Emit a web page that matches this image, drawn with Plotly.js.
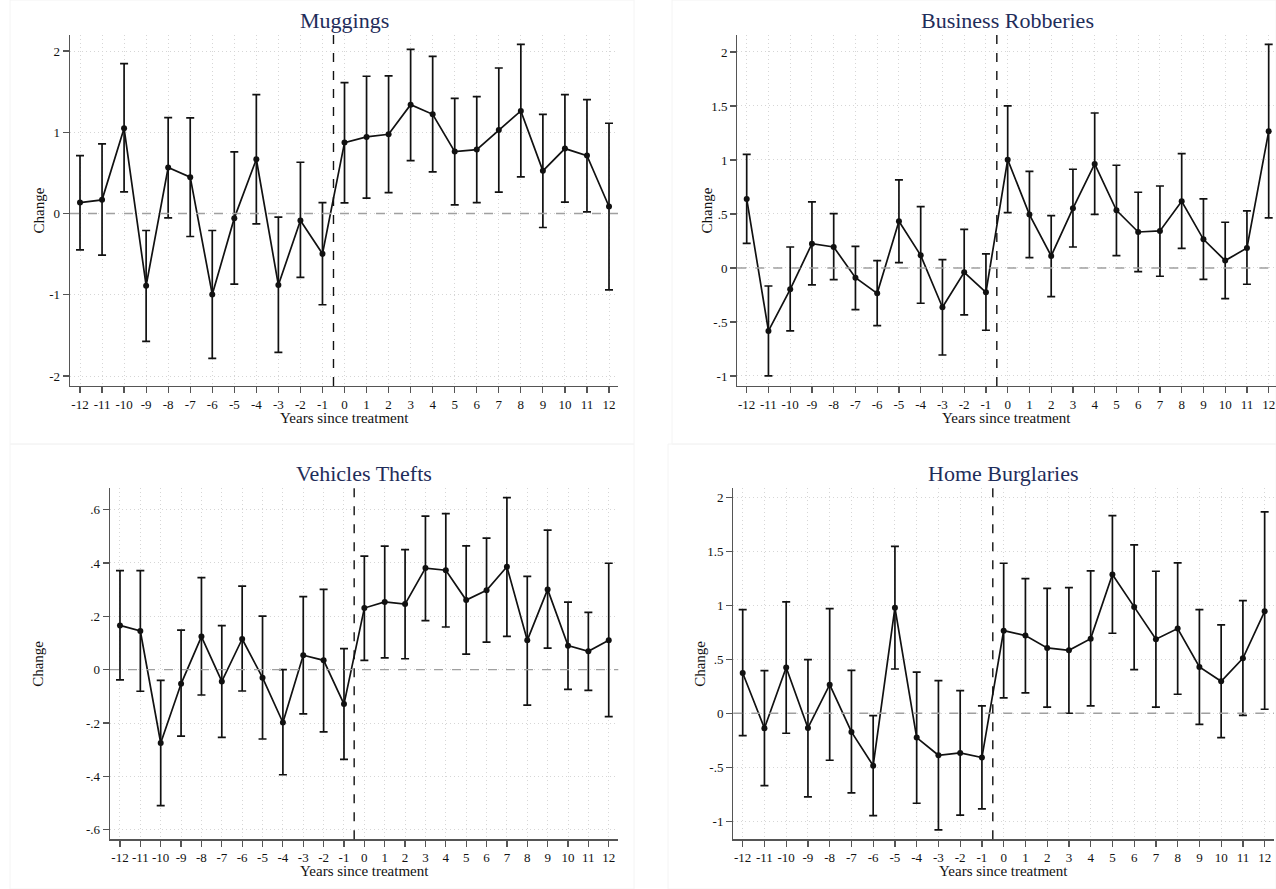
<!DOCTYPE html>
<html>
<head>
<meta charset="utf-8">
<script src="https://cdn.plot.ly/plotly-3.0.1.min.js"></script>
<style>html,body{margin:0;padding:0;background:#fff;}#chart{width:1276px;height:889px;}</style>
</head>
<body>
<div id="chart"></div>
<script>
// ---- Data ----
const years = [-12,-11,-10,-9,-8,-7,-6,-5,-4,-3,-2,-1,0,1,2,3,4,5,6,7,8,9,10,11,12];
const yearTickLabels = ["-12","-11","-10","-9","-8","-7","-6","-5","-4","-3","-2","-1","0","1","2","3","4","5","6","7","8","9","10","11","12"];

const panelTitles = ["Muggings", "Business Robberies", "Vehicles Thefts", "Home Burglaries"];

const muggingsCoef  = [0.135,0.168,1.049,-0.889,0.566,0.447,-0.996,-0.057,0.668,-0.881,-0.086,-0.496,0.873,0.943,0.975,1.340,1.221,0.762,0.787,1.029,1.262,0.525,0.799,0.713,0.086];
const muggingsUpper = [0.713,0.857,1.844,-0.209,1.180,1.176,-0.209,0.758,1.463,-0.045,0.631,0.135,1.611,1.689,1.693,2.020,1.934,1.418,1.439,1.791,2.082,1.221,1.463,1.402,1.111];
const muggingsLower = [-0.447,-0.512,0.266,-1.574,-0.053,-0.283,-1.783,-0.869,-0.127,-1.709,-0.787,-1.123,0.131,0.189,0.258,0.652,0.512,0.107,0.135,0.262,0.451,-0.172,0.139,0.020,-0.939];

const businessCoef  = [0.639,-0.583,-0.198,0.225,0.194,-0.090,-0.235,0.432,0.117,-0.364,-0.040,-0.225,1.003,0.494,0.111,0.552,0.963,0.534,0.333,0.343,0.617,0.265,0.068,0.185,1.265];
const businessUpper = [1.052,-0.167,0.194,0.611,0.503,0.200,0.068,0.815,0.568,0.077,0.358,0.130,1.500,0.895,0.485,0.914,1.435,0.951,0.701,0.759,1.059,0.639,0.423,0.528,2.071];
const businessLower = [0.228,-1.000,-0.583,-0.157,-0.108,-0.386,-0.534,0.049,-0.327,-0.806,-0.435,-0.577,0.512,0.096,-0.265,0.194,0.497,0.114,-0.034,-0.077,0.182,-0.105,-0.284,-0.151,0.463];

const vehiclesCoef  = [0.166,0.145,-0.275,-0.053,0.124,-0.044,0.115,-0.030,-0.198,0.054,0.035,-0.129,0.231,0.254,0.246,0.381,0.373,0.261,0.298,0.386,0.110,0.301,0.090,0.069,0.110];
const vehiclesUpper = [0.371,0.371,-0.040,0.148,0.345,0.165,0.313,0.201,0.000,0.274,0.301,0.079,0.426,0.463,0.450,0.576,0.585,0.464,0.493,0.645,0.350,0.523,0.253,0.215,0.399];
const vehiclesLower = [-0.038,-0.081,-0.510,-0.249,-0.095,-0.254,-0.080,-0.260,-0.394,-0.166,-0.233,-0.336,0.035,0.044,0.041,0.184,0.160,0.058,0.103,0.125,-0.133,0.081,-0.074,-0.078,-0.176];

const homeCoef  = [0.373,-0.139,0.423,-0.136,0.265,-0.173,-0.485,0.978,-0.225,-0.389,-0.367,-0.410,0.765,0.719,0.605,0.583,0.691,1.284,0.985,0.685,0.784,0.429,0.296,0.509,0.944];
const homeUpper = [0.960,0.395,1.031,0.497,0.969,0.398,-0.022,1.546,0.380,0.302,0.210,0.068,1.389,1.247,1.157,1.164,1.318,1.830,1.559,1.315,1.392,0.960,0.818,1.043,1.864];
const homeLower = [-0.207,-0.670,-0.185,-0.775,-0.435,-0.738,-0.948,0.410,-0.833,-1.080,-0.944,-0.886,0.142,0.188,0.056,0.000,0.068,0.741,0.404,0.056,0.176,-0.102,-0.225,-0.019,0.037];

const muggingsTicks = [-2,-1,0,1,2];
const muggingsTickLabels = ["-2","-1","0","1","2"];
const businessTicks = [-1,-0.5,0,0.5,1,1.5,2];
const businessTickLabels = ["-1","-.5","0",".5","1","1.5","2"];
const vehiclesTicks = [-0.6,-0.4,-0.2,0,0.2,0.4,0.6];
const vehiclesTickLabels = ["-.6","-.4","-.2","0",".2",".4",".6"];
const homeTicks = [-1,-0.5,0,0.5,1,1.5,2];
const homeTickLabels = ["-1","-.5","0",".5","1","1.5","2"];

const treatmentLine = -0.5;
const zeroLine = 0;

// ---- Build ----
const W = 1276, H = 889;
const FONT = "'Liberation Serif', 'Times New Roman', serif";

const series = [
  {coef: muggingsCoef, up: muggingsUpper, lo: muggingsLower, ticks: muggingsTicks, labels: muggingsTickLabels},
  {coef: businessCoef, up: businessUpper, lo: businessLower, ticks: businessTicks, labels: businessTickLabels},
  {coef: vehiclesCoef, up: vehiclesUpper, lo: vehiclesLower, ticks: vehiclesTicks, labels: vehiclesTickLabels},
  {coef: homeCoef, up: homeUpper, lo: homeLower, ticks: homeTicks, labels: homeTickLabels}
];

// pixel geometry of each plot area: [left, right, top, bottom], plus ranges
const geom = [
  {l:70,    r:618,  t:35,    b:386,   xr:[-12.454,12.408], yr:[-2.123,2.197], titleX:344,  titleY:21,  ytX:38},
  {l:737.3, r:1276, t:35,    b:386,   xr:[-12.432,12.336], yr:[-1.093,2.157], titleX:1007, titleY:21,  ytX:706},
  {l:110,   r:618.3,t:488.3, b:839.3, xr:[-12.49,12.47],   yr:[-0.636,0.68],  titleX:364,  titleY:473, ytX:38},
  {l:733.3, r:1274, t:488.3, b:839.3, xr:[-12.432,12.43],  yr:[-1.167,2.083], titleX:1003, titleY:473, ytX:700}
];

const traces = [];
const layout = {
  width: W, height: H,
  margin: {l:0, r:0, t:0, b:0},
  paper_bgcolor: "#ffffff",
  plot_bgcolor: "rgba(0,0,0,0)",
  showlegend: false,
  font: {family: FONT, color: "#000", size: 13},
  shapes: [],
  annotations: []
};

// faint panel frames
const frames = [[10,634,0,444],[672,1276,0,444],[10,634,444,889],[668,1276,444,889]];
frames.forEach(f => {
  layout.shapes.push({type:"rect", xref:"paper", yref:"paper",
    x0:f[0]/W, x1:f[1]/W, y0:1-f[3]/H, y1:1-f[2]/H,
    line:{color:"#f4f4f4", width:1}, layer:"below"});
});

series.forEach((s, i) => {
  const g = geom[i];
  const n = i + 1;
  const xa = n === 1 ? "xaxis" : "xaxis" + n;
  const ya = n === 1 ? "yaxis" : "yaxis" + n;
  const xid = n === 1 ? "x" : "x" + n;
  const yid = n === 1 ? "y" : "y" + n;

  traces.push({
    type: "scatter", mode: "lines+markers",
    x: years, y: s.coef, xaxis: xid, yaxis: yid,
    line: {color: "#111", width: 1.7},
    marker: {color: "#111", size: 6},
    error_y: {
      type: "data", symmetric: false,
      array: s.up.map((u, k) => u - s.coef[k]),
      arrayminus: s.coef.map((c, k) => c - s.lo[k]),
      color: "#111", thickness: 1.7, width: 4
    },
    hoverinfo: "x+y"
  });

  const gridStyle = {showgrid: true, gridcolor: "#d6d6d6", griddash: "1px,3px", gridwidth: 1};

  layout[xa] = Object.assign({
    domain: [g.l / W, g.r / W],
    anchor: yid,
    range: g.xr,
    tickmode: "array", tickvals: years, ticktext: yearTickLabels,
    ticks: "outside", ticklen: 6, tickwidth: 1.2, tickcolor: "#555",
    showline: true, linecolor: "#555", linewidth: 1.3,
    zeroline: false,
    tickfont: {family: FONT, size: 13, color: "#111"},
    fixedrange: true
  }, gridStyle);
  layout[ya] = Object.assign({
    domain: [1 - g.b / H, 1 - g.t / H],
    anchor: xid,
    range: g.yr,
    tickmode: "array", tickvals: s.ticks, ticktext: s.labels,
    ticks: "outside", ticklen: 6, tickwidth: 1.2, tickcolor: "#555",
    showline: true, linecolor: "#555", linewidth: 1.3,
    zeroline: false,
    tickfont: {family: FONT, size: 13, color: "#111"},
    fixedrange: true
  }, gridStyle);

  // reference lines
  layout.shapes.push({type:"line", xref: xid + " domain", yref: yid,
    x0: 0, x1: 1, y0: zeroLine, y1: zeroLine,
    line: {color: "#a0a0a0", width: 1.4, dash: "dash"}});
  layout.shapes.push({type:"line", xref: xid, yref: yid + " domain",
    x0: treatmentLine, x1: treatmentLine, y0: 0, y1: 1,
    line: {color: "#111", width: 1.4, dash: "dash"}});

  // panel title
  layout.annotations.push({text: panelTitles[i], xref:"paper", yref:"paper",
    x: g.titleX / W, y: 1 - g.titleY / H, xanchor:"center", yanchor:"middle",
    showarrow:false, font:{family: FONT, size: 22, color: "#1f2d5a"}});
  // x axis title
  layout.annotations.push({text: "Years since treatment", xref:"paper", yref:"paper",
    x: (g.l + g.r) / 2 / W, y: 1 - (g.b + 32) / H, xanchor:"center", yanchor:"middle",
    showarrow:false, font:{family: FONT, size: 15, color: "#111"}});
  // y axis title
  layout.annotations.push({text: "Change", xref:"paper", yref:"paper",
    x: g.ytX / W, y: 1 - (g.t + g.b) / 2 / H, xanchor:"center", yanchor:"middle",
    textangle: -90,
    showarrow:false, font:{family: FONT, size: 15, color: "#111"}});
});

Plotly.newPlot("chart", traces, layout, {displayModeBar: false, staticPlot: true});
</script>
</body>
</html>
